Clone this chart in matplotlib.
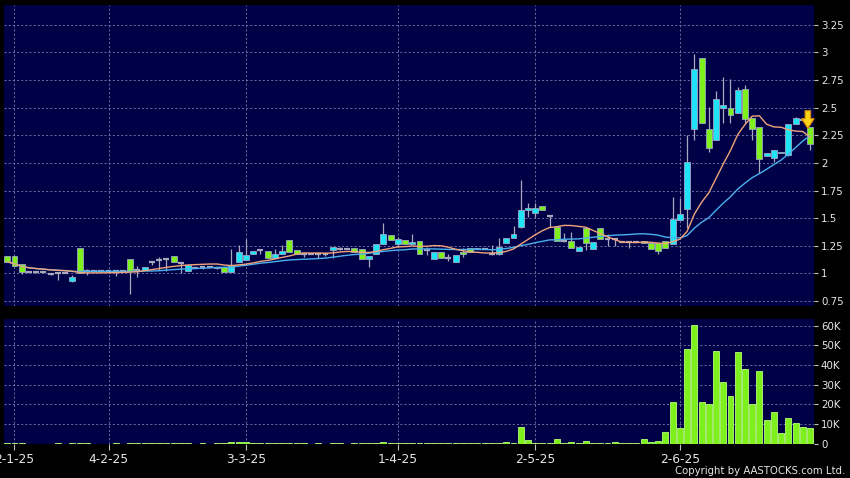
import numpy as np
import pandas as pd
import matplotlib
matplotlib.use('Agg')
from matplotlib import pyplot as plt
from matplotlib.ticker import FuncFormatter

# daily OHLC (HKD), one entry per trading day
opens = [1.16, 1.16, 1.085, 1.015, 1.015, 1.01, 0.996, 1.0, 1.0, 0.934,
         1.23, 1.025, 1.02, 1.02, 1.02, 1.02, 1.02, 1.13, 1.03, 1.03,
         1.105, 1.12, 1.13, 1.16, 1.095, 1.02, 1.05, 1.055, 1.055, 1.05,
         1.06, 1.01, 1.105, 1.12, 1.175, 1.21, 1.205, 1.14, 1.18, 1.30,
         1.21, 1.18, 1.18, 1.18, 1.18, 1.21, 1.225, 1.225, 1.23, 1.22,
         1.135, 1.172, 1.263, 1.347, 1.27, 1.30, 1.265, 1.295, 1.21, 1.127,
         1.196, 1.136, 1.105, 1.196, 1.226, 1.22, 1.225, 1.175, 1.18, 1.272,
         1.317, 1.417, 1.573, 1.549, 1.61, 1.52, 1.422, 1.295, 1.295, 1.205,
         1.408, 1.217, 1.413, 1.308, 1.308, 1.286, 1.28, 1.28, 1.295, 1.277,
         1.277, 1.295, 1.265, 1.483, 1.582, 2.304, 2.947, 2.304, 2.207, 2.494,
         2.50, 2.455, 2.667, 2.404, 2.322, 2.065, 2.047, 2.087, 2.07, 2.352,
         2.39, 2.328]
highs = [1.16, 1.16, 1.085, 1.02, 1.015, 1.01, 0.996, 1.015, 1.0, 0.99,
         1.23, 1.04, 1.02, 1.02, 1.02, 1.02, 1.02, 1.13, 1.065, 1.06,
         1.105, 1.145, 1.13, 1.16, 1.095, 1.075, 1.05, 1.06, 1.055, 1.06,
         1.06, 1.22, 1.256, 1.31, 1.205, 1.21, 1.205, 1.22, 1.256, 1.30,
         1.21, 1.18, 1.18, 1.18, 1.18, 1.24, 1.235, 1.225, 1.23, 1.22,
         1.16, 1.263, 1.46, 1.347, 1.33, 1.30, 1.356, 1.295, 1.24, 1.196,
         1.196, 1.18, 1.166, 1.23, 1.226, 1.23, 1.225, 1.256, 1.317, 1.317,
         1.43, 1.85, 1.634, 1.634, 1.61, 1.52, 1.422, 1.362, 1.377, 1.24,
         1.422, 1.286, 1.413, 1.36, 1.308, 1.286, 1.28, 1.28, 1.295, 1.277,
         1.277, 1.295, 1.694, 1.68, 2.25, 2.99, 2.95, 2.509, 2.655, 2.78,
         2.757, 2.69, 2.706, 2.404, 2.322, 2.087, 2.117, 2.10, 2.35, 2.42,
         2.39, 2.328]
lows = [1.10, 1.07, 0.995, 1.01, 1.0, 1.0, 0.99, 0.94, 1.0, 0.92,
        1.005, 0.99, 1.02, 1.02, 1.02, 0.98, 1.02, 0.81, 0.97, 1.03,
        1.08, 1.035, 1.02, 1.105, 1.0, 1.02, 1.05, 1.04, 1.055, 1.04,
        1.015, 1.01, 1.105, 1.12, 1.175, 1.18, 1.14, 1.14, 1.18, 1.19,
        1.18, 1.15, 1.18, 1.14, 1.16, 1.14, 1.215, 1.225, 1.19, 1.135,
        1.06, 1.172, 1.263, 1.30, 1.24, 1.265, 1.265, 1.18, 1.166, 1.127,
        1.136, 1.114, 1.105, 1.15, 1.196, 1.22, 1.225, 1.166, 1.166, 1.272,
        1.317, 1.41, 1.513, 1.51, 1.573, 1.42, 1.295, 1.28, 1.226, 1.205,
        1.21, 1.217, 1.308, 1.25, 1.25, 1.286, 1.23, 1.28, 1.272, 1.217,
        1.175, 1.226, 1.265, 1.483, 1.41, 2.21, 2.36, 2.10, 2.207, 2.36,
        2.36, 2.455, 2.36, 2.207, 1.906, 2.065, 2.01, 2.087, 2.06, 2.352,
        2.39, 2.12]
closes = [1.105, 1.07, 1.015, 1.015, 1.015, 1.01, 0.996, 1.0, 1.0, 0.964,
          1.005, 1.025, 1.02, 1.02, 1.02, 1.02, 1.02, 1.025, 1.03, 1.06,
          1.105, 1.12, 1.13, 1.105, 1.095, 1.075, 1.05, 1.055, 1.055, 1.06,
          1.015, 1.07, 1.195, 1.17, 1.205, 1.21, 1.14, 1.18, 1.205, 1.19,
          1.18, 1.18, 1.18, 1.18, 1.18, 1.24, 1.225, 1.225, 1.19, 1.135,
          1.16, 1.263, 1.353, 1.30, 1.31, 1.265, 1.285, 1.18, 1.21, 1.196,
          1.136, 1.136, 1.166, 1.175, 1.196, 1.23, 1.225, 1.175, 1.24, 1.317,
          1.353, 1.573, 1.59, 1.594, 1.573, 1.52, 1.295, 1.295, 1.226, 1.24,
          1.272, 1.286, 1.308, 1.308, 1.308, 1.286, 1.28, 1.28, 1.272, 1.217,
          1.205, 1.226, 1.489, 1.537, 2.005, 2.848, 2.359, 2.132, 2.576, 2.524,
          2.434, 2.66, 2.395, 2.304, 2.035, 2.087, 2.117, 2.10, 2.35, 2.404,
          2.39, 2.171]
# daily volume, thousands of shares
volumes = [0.1, 0.1, 0.5, 0.0, 0.0, 0.0, 0.0, 0.1, 0.0, 0.2,
           0.2, 0.1, 0.0, 0.0, 0.0, 0.1, 0.0, 0.5, 0.1, 0.2,
           0.1, 0.4, 0.1, 0.2, 0.4, 0.5, 0.0, 0.1, 0.0, 0.1,
           0.2, 0.8, 1.0, 1.0, 0.2, 0.1, 0.2, 0.3, 0.3, 0.2,
           0.1, 0.1, 0.0, 0.1, 0.0, 0.3, 0.1, 0.0, 0.2, 0.2,
           0.1, 0.2, 1.0, 0.2, 0.2, 0.2, 0.1, 0.3, 0.1, 0.2,
           0.3, 0.1, 0.2, 0.3, 0.3, 0.4, 0.3, 0.5, 0.5, 0.6,
           0.5, 8.5, 1.7, 0.3, 0.4, 0.2, 2.3, 0.2, 0.9, 0.2,
           1.2, 0.3, 0.4, 0.2, 0.7, 0.1, 0.2, 0.1, 2.3, 1.0,
           1.1, 6.0, 20.9, 8.0, 48.1, 60.4, 21.3, 19.9, 47.1, 31.5,
           24.3, 46.4, 37.8, 20.1, 36.7, 11.9, 15.8, 5.6, 13.1, 10.2,
           8.5, 7.7]

tick_pos = [1, 14, 33, 54, 73, 93]
tick_labels = ['2-1-25', '4-2-25', '3-3-25', '1-4-25', '2-5-25', '2-6-25']
price_ticks = [0.75, 1, 1.25, 1.5, 1.75, 2, 2.25, 2.5, 2.75, 3, 3.25]
vol_ticks = [0, 10, 20, 30, 40, 50, 60]

BG = '#000046'
UP = '#1fe3f7'
DOWN = '#7ef01c'
FLAT = '#a8a8bc'
GRID = '#7b7ba8'
TXT = '#e6e6e6'

x = np.arange(len(closes))
o = np.array(opens)
h = np.array(highs)
l = np.array(lows)
c = np.array(closes)
ma10 = pd.Series(closes).rolling(10, min_periods=1).mean()
ma20 = pd.Series(closes).rolling(20, min_periods=1).mean()

fig = plt.figure(figsize=(8.5, 4.78), dpi=100, facecolor='black')
ax = fig.add_axes([4 / 850, 1 - 306 / 478, 810 / 850, 301 / 478])
axv = fig.add_axes([4 / 850, 1 - 443.5 / 478, 810 / 850, 124.5 / 478], sharex=ax)

for a in (ax, axv):
  a.set_facecolor(BG)
  for s in a.spines.values():
    s.set_visible(False)
  a.grid(True, color=GRID, linestyle=(0, (2.5, 2.5)), linewidth=0.6)
  a.set_axisbelow(True)
  a.yaxis.tick_right()
  a.tick_params(axis='y', colors=TXT, length=3, width=0.8, pad=2,
                labelsize=7.4, color='#c0c0c0')

up = c > o
down = c < o
flat = c == o

# wicks
ax.vlines(x, l, h, color=FLAT, linewidth=0.9, zorder=2)
# bodies
ax.bar(x[up], (c - o)[up], bottom=o[up], width=0.82, color=UP,
       edgecolor='#9aa6c0', linewidth=0.6, zorder=3)
ax.bar(x[down], (o - c)[down], bottom=c[down], width=0.82, color=DOWN,
       edgecolor='#9aa6c0', linewidth=0.6, zorder=3)
ax.hlines(c[flat], x[flat] - 0.41, x[flat] + 0.41, color=FLAT,
          linewidth=1.6, zorder=3)

ax.plot(x, ma20, color='#4ab0ee', linewidth=1.0, zorder=4)
ax.plot(x, ma10, color='#f0a47a', linewidth=1.0, zorder=4)

# marker on the latest session
ax.annotate('', xy=(x[-1] - 0.3, h[-1] - 0.04), xytext=(x[-1] - 0.3, h[-1] + 0.17),
            arrowprops=dict(arrowstyle='simple,head_length=0.7,head_width=0.9,tail_width=0.4',
                            fc='#ffd21a', ec='#d98c00', lw=0.8), zorder=6)

ax.set_ylim(0.705, 3.43)
ax.set_yticks(price_ticks)
ax.yaxis.set_major_formatter(FuncFormatter(lambda v, _: f'{v:g}'))
ax.set_xlim(-0.45, len(closes) - 0.45)
ax.tick_params(axis='x', bottom=False, labelbottom=False)

axv.bar(x, volumes, width=0.82, color=DOWN, edgecolor='#b5ff78', linewidth=0.6, zorder=3)
axv.set_ylim(0, 63.4)
axv.set_yticks(vol_ticks)
axv.yaxis.set_major_formatter(FuncFormatter(lambda v, _: f'{v:g}K' if v else '0'))
axv.set_xticks(tick_pos)
axv.set_xticklabels(tick_labels)
axv.tick_params(axis='x', colors=TXT, length=4, width=0.8, pad=3,
                labelsize=8.8, color='#c0c0c0')

fig.text(845 / 850, 1 - 476 / 478, 'Copyright by AASTOCKS.com Ltd.', ha='right',
         va='bottom', color=TXT, fontsize=7.3)

fig.savefig('out.png', dpi=100, facecolor='black')
